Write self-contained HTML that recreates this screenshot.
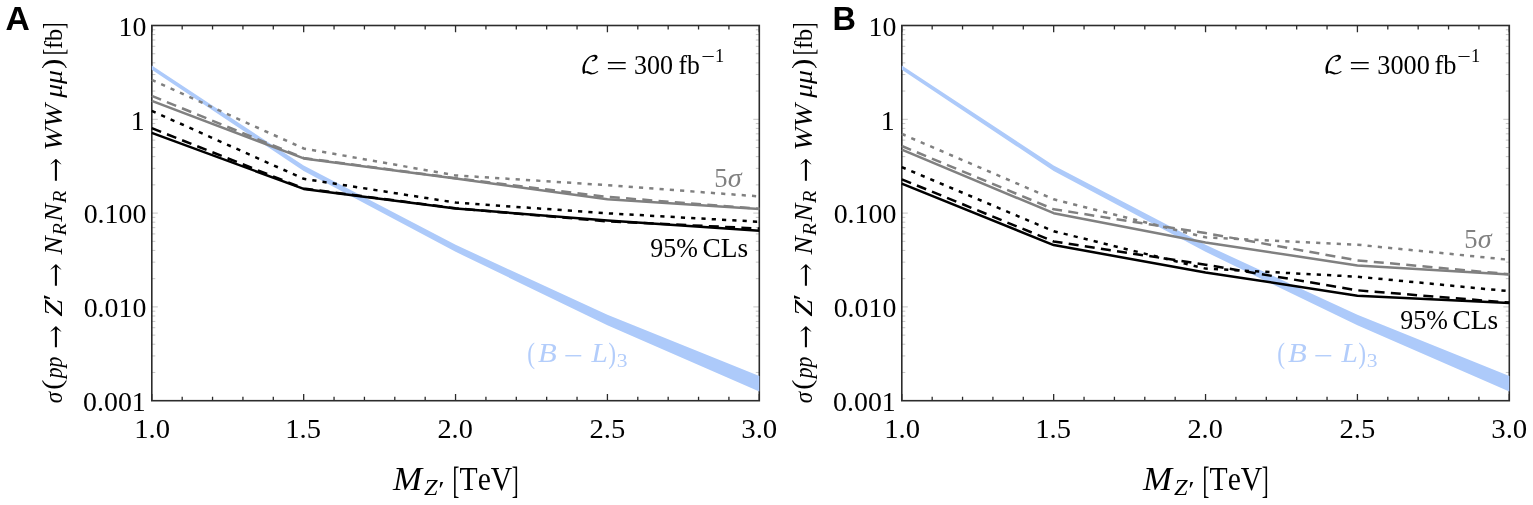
<!DOCTYPE html>
<html lang="en"><head><meta charset="utf-8"><title>Figure</title>
<style>
html,body{margin:0;padding:0;background:#fff}
svg{display:block}
text{font-family:"Liberation Serif","DejaVu Serif",serif;fill:#000;font-kerning:none;font-variant-ligatures:none}
.i{font-style:italic}
.sans{font-family:"Liberation Sans","DejaVu Sans",sans-serif;font-weight:bold}
.m{font-family:"DejaVu Math TeX Gyre","DejaVu Serif","DejaVu Sans",serif}
</style></head>
<body>
<svg width="1533" height="505" viewBox="0 0 1533 505">
<rect width="1533" height="505" fill="#fff"/>
<!-- panel A -->
<path d="M151.8 372.46h3.5M759.3 372.46h-3.5M151.8 355.95h3.5M759.3 355.95h-3.5M151.8 344.23h3.5M759.3 344.23h-3.5M151.8 335.14h3.5M759.3 335.14h-3.5M151.8 327.71h3.5M759.3 327.71h-3.5M151.8 321.43h3.5M759.3 321.43h-3.5M151.8 315.99h3.5M759.3 315.99h-3.5M151.8 311.19h3.5M759.3 311.19h-3.5M151.8 306.90h6M759.3 306.90h-6M151.8 278.66h3.5M759.3 278.66h-3.5M151.8 262.15h3.5M759.3 262.15h-3.5M151.8 250.43h3.5M759.3 250.43h-3.5M151.8 241.34h3.5M759.3 241.34h-3.5M151.8 233.91h3.5M759.3 233.91h-3.5M151.8 227.63h3.5M759.3 227.63h-3.5M151.8 222.19h3.5M759.3 222.19h-3.5M151.8 217.39h3.5M759.3 217.39h-3.5M151.8 213.10h6M759.3 213.10h-6M151.8 184.86h3.5M759.3 184.86h-3.5M151.8 168.35h3.5M759.3 168.35h-3.5M151.8 156.63h3.5M759.3 156.63h-3.5M151.8 147.54h3.5M759.3 147.54h-3.5M151.8 140.11h3.5M759.3 140.11h-3.5M151.8 133.83h3.5M759.3 133.83h-3.5M151.8 128.39h3.5M759.3 128.39h-3.5M151.8 123.59h3.5M759.3 123.59h-3.5M151.8 119.30h6M759.3 119.30h-6M151.8 91.06h3.5M759.3 91.06h-3.5M151.8 74.55h3.5M759.3 74.55h-3.5M151.8 62.83h3.5M759.3 62.83h-3.5M151.8 53.74h3.5M759.3 53.74h-3.5M151.8 46.31h3.5M759.3 46.31h-3.5M151.8 40.03h3.5M759.3 40.03h-3.5M151.8 34.59h3.5M759.3 34.59h-3.5M151.8 29.79h3.5M759.3 29.79h-3.5" stroke="#8c8c8c" stroke-width="0.5" fill="none"/>
<path d="M151.80 400.7v-6.8M151.80 25.5v6.8M182.18 400.7v-3.9M182.18 25.5v3.9M212.55 400.7v-3.9M212.55 25.5v3.9M242.93 400.7v-3.9M242.93 25.5v3.9M273.30 400.7v-3.9M273.30 25.5v3.9M303.68 400.7v-6.8M303.68 25.5v6.8M334.05 400.7v-3.9M334.05 25.5v3.9M364.43 400.7v-3.9M364.43 25.5v3.9M394.80 400.7v-3.9M394.80 25.5v3.9M425.18 400.7v-3.9M425.18 25.5v3.9M455.55 400.7v-6.8M455.55 25.5v6.8M485.93 400.7v-3.9M485.93 25.5v3.9M516.30 400.7v-3.9M516.30 25.5v3.9M546.67 400.7v-3.9M546.67 25.5v3.9M577.05 400.7v-3.9M577.05 25.5v3.9M607.42 400.7v-6.8M607.42 25.5v6.8M637.80 400.7v-3.9M637.80 25.5v3.9M668.17 400.7v-3.9M668.17 25.5v3.9M698.55 400.7v-3.9M698.55 25.5v3.9M728.92 400.7v-3.9M728.92 25.5v3.9M759.30 400.7v-6.8M759.30 25.5v6.8" stroke="#2a2a2a" stroke-width="1.3" fill="none"/>
<rect x="151.8" y="25.5" width="607.5" height="375.2" fill="none" stroke="#2c2c2c" stroke-width="1.6"/>
<polygon points="151.8,65.6 303.7,165.6 455.6,244.8 607.4,314.8 759.3,375.9 759.3,391.4 607.4,325.2 455.6,251.8 303.7,171.0 151.8,69.7" fill="#adcafa"/>
<polyline points="151.8,79.9 303.7,148.5 455.6,175.4 607.4,185.2 759.3,196.4" fill="none" stroke="#808080" stroke-width="2.5" stroke-linejoin="round" stroke-dasharray="4.2 6.1"/>
<polyline points="151.8,95.9 303.7,158.0 455.6,178.2 607.4,196.9 759.3,208.7" fill="none" stroke="#808080" stroke-width="2.5" stroke-linejoin="round" stroke-dasharray="10 6.3"/>
<polyline points="151.8,100.8 303.7,158.4 455.6,178.6 607.4,199.3 759.3,208.9" fill="none" stroke="#808080" stroke-width="2.5" stroke-linejoin="round"/>
<polyline points="151.8,110.9 303.7,178.8 455.6,202.6 607.4,213.3 759.3,221.8" fill="none" stroke="#000" stroke-width="2.5" stroke-linejoin="round" stroke-dasharray="4.2 6.1"/>
<polyline points="151.8,128.2 303.7,188.5 455.6,208.3 607.4,221.4 759.3,228.5" fill="none" stroke="#000" stroke-width="2.5" stroke-linejoin="round" stroke-dasharray="10 6.3"/>
<polyline points="151.8,132.8 303.7,188.9 455.6,208.6 607.4,220.4 759.3,230.7" fill="none" stroke="#000" stroke-width="2.5" stroke-linejoin="round"/>
<text x="118.50" y="35.70" font-size="27.5" textLength="27.86" lengthAdjust="spacingAndGlyphs">10</text>
<text x="130.74" y="129.50" font-size="27.5" textLength="13.93" lengthAdjust="spacingAndGlyphs">1</text>
<text x="83.68" y="223.30" font-size="27.5" textLength="62.68" lengthAdjust="spacingAndGlyphs">0.100</text>
<text x="83.68" y="317.10" font-size="27.5" textLength="62.68" lengthAdjust="spacingAndGlyphs">0.010</text>
<text x="83.09" y="410.90" font-size="27.5" textLength="62.68" lengthAdjust="spacingAndGlyphs">0.001</text>
<text x="134.28" y="438.00" font-size="27.5" textLength="35.81" lengthAdjust="spacingAndGlyphs">1.0</text>
<text x="285.19" y="438.00" font-size="27.5" textLength="35.73" lengthAdjust="spacingAndGlyphs">1.5</text>
<text x="437.46" y="438.00" font-size="27.5" textLength="35.32" lengthAdjust="spacingAndGlyphs">2.0</text>
<text x="589.55" y="438.00" font-size="27.5" textLength="35.67" lengthAdjust="spacingAndGlyphs">2.5</text>
<text x="741.22" y="438.00" font-size="27.5" textLength="36.08" lengthAdjust="spacingAndGlyphs">3.0</text>
<text class="sans" x="5.46" y="30.10" font-size="32.3" textLength="24.33" lengthAdjust="spacingAndGlyphs">A</text>
<g transform="translate(62.0 500) rotate(-90)"><text class="i" x="96.71" y="0.00" font-size="25.5" textLength="11.36" lengthAdjust="spacingAndGlyphs">σ</text><text x="110.09" y="-1.00" font-size="28" textLength="10.44" lengthAdjust="spacingAndGlyphs">(</text><text class="i" x="121.76" y="0.00" font-size="25.5" textLength="21.59" lengthAdjust="spacingAndGlyphs">pp</text><text class="m" x="150.79" y="0.50" font-size="26" textLength="24.92" lengthAdjust="spacingAndGlyphs">→</text><text class="i" x="183.53" y="0.00" font-size="25.5" textLength="16.72" lengthAdjust="spacingAndGlyphs">Z</text><text x="199.64" y="-1.00" font-size="25.5" textLength="6.92" lengthAdjust="spacingAndGlyphs">′</text><text class="m" x="212.23" y="0.50" font-size="26" textLength="25.63" lengthAdjust="spacingAndGlyphs">→</text><text class="i" x="245.60" y="0.00" font-size="25.5" textLength="18.14" lengthAdjust="spacingAndGlyphs">N</text><text class="i" x="264.41" y="4.10" font-size="18" textLength="12.43" lengthAdjust="spacingAndGlyphs">R</text><text class="i" x="278.30" y="0.00" font-size="25.5" textLength="18.14" lengthAdjust="spacingAndGlyphs">N</text><text class="i" x="297.11" y="4.10" font-size="18" textLength="12.43" lengthAdjust="spacingAndGlyphs">R</text><text class="m" x="317.21" y="0.50" font-size="26" textLength="25.87" lengthAdjust="spacingAndGlyphs">→</text><text class="i" x="349.56" y="0.00" font-size="25.5" textLength="46.53" lengthAdjust="spacingAndGlyphs">WW</text><text class="i" x="402.23" y="0.00" font-size="25.5" textLength="27.69" lengthAdjust="spacingAndGlyphs">μμ</text><text x="431.01" y="-1.00" font-size="28" textLength="10.44" lengthAdjust="spacingAndGlyphs">)</text><text x="444.73" y="1.30" font-size="29" textLength="6.58" lengthAdjust="spacingAndGlyphs">[</text><text x="450.96" y="0.00" font-size="25.5" textLength="20.17" lengthAdjust="spacingAndGlyphs">fb</text><text x="470.89" y="1.30" font-size="29" textLength="6.58" lengthAdjust="spacingAndGlyphs">]</text></g>
<text class="i" x="392.91" y="490.30" font-size="33" textLength="29.09" lengthAdjust="spacingAndGlyphs">M</text>
<text class="i" x="423.90" y="495.20" font-size="23.5" textLength="13.60" lengthAdjust="spacingAndGlyphs">Z</text>
<text x="438.26" y="497.00" font-size="23.5" textLength="6.37" lengthAdjust="spacingAndGlyphs">′</text>
<text x="452.57" y="492.60" font-size="38" textLength="6.88" lengthAdjust="spacingAndGlyphs">[</text>
<text x="459.56" y="490.30" font-size="33" textLength="52.77" lengthAdjust="spacingAndGlyphs">TeV</text>
<text x="511.75" y="492.60" font-size="38" textLength="6.88" lengthAdjust="spacingAndGlyphs">]</text>
<text class="m" x="580.39" y="73.00" font-size="24" textLength="20.22" lengthAdjust="spacingAndGlyphs">ℒ</text>
<text x="606.09" y="75.20" font-size="27.5" textLength="21.57" lengthAdjust="spacingAndGlyphs">=</text>
<text x="634.05" y="74.20" font-size="27.5" textLength="39.04" lengthAdjust="spacingAndGlyphs">300</text>
<text x="678.51" y="74.20" font-size="27.5" textLength="21.37" lengthAdjust="spacingAndGlyphs">fb</text>
<text x="701.19" y="63.40" font-size="19.5" textLength="13.70" lengthAdjust="spacingAndGlyphs">−</text>
<text x="715.08" y="62.00" font-size="19.5" textLength="9.23" lengthAdjust="spacingAndGlyphs">1</text>
<text x="714.26" y="187.30" font-size="27.5" textLength="13.28" lengthAdjust="spacingAndGlyphs" style="fill:#808080">5</text>
<text class="i" x="727.66" y="187.30" font-size="27.5" textLength="13.85" lengthAdjust="spacingAndGlyphs" style="fill:#808080">σ</text>
<text x="650.26" y="256.60" font-size="27.5" textLength="47.63" lengthAdjust="spacingAndGlyphs">95%</text>
<text x="702.58" y="256.60" font-size="27.5" textLength="45.72" lengthAdjust="spacingAndGlyphs">CLs</text>
<text x="527.27" y="362.80" font-size="30" textLength="7.78" lengthAdjust="spacingAndGlyphs" style="fill:#b3cdfb">(</text>
<text class="i" x="537.92" y="362.30" font-size="27.5" textLength="18.76" lengthAdjust="spacingAndGlyphs" style="fill:#b3cdfb">B</text>
<text x="563.70" y="364.80" font-size="27.5" textLength="19.27" lengthAdjust="spacingAndGlyphs" style="fill:#b3cdfb">−</text>
<text class="i" x="591.54" y="362.30" font-size="27.5" textLength="16.35" lengthAdjust="spacingAndGlyphs" style="fill:#b3cdfb">L</text>
<text x="608.25" y="362.80" font-size="30" textLength="7.78" lengthAdjust="spacingAndGlyphs" style="fill:#b3cdfb">)</text>
<text x="616.87" y="366.90" font-size="19.5" textLength="10.77" lengthAdjust="spacingAndGlyphs" style="fill:#b3cdfb">3</text>
<!-- panel B -->
<path d="M901.8 372.46h3.5M1509.3 372.46h-3.5M901.8 355.95h3.5M1509.3 355.95h-3.5M901.8 344.23h3.5M1509.3 344.23h-3.5M901.8 335.14h3.5M1509.3 335.14h-3.5M901.8 327.71h3.5M1509.3 327.71h-3.5M901.8 321.43h3.5M1509.3 321.43h-3.5M901.8 315.99h3.5M1509.3 315.99h-3.5M901.8 311.19h3.5M1509.3 311.19h-3.5M901.8 306.90h6M1509.3 306.90h-6M901.8 278.66h3.5M1509.3 278.66h-3.5M901.8 262.15h3.5M1509.3 262.15h-3.5M901.8 250.43h3.5M1509.3 250.43h-3.5M901.8 241.34h3.5M1509.3 241.34h-3.5M901.8 233.91h3.5M1509.3 233.91h-3.5M901.8 227.63h3.5M1509.3 227.63h-3.5M901.8 222.19h3.5M1509.3 222.19h-3.5M901.8 217.39h3.5M1509.3 217.39h-3.5M901.8 213.10h6M1509.3 213.10h-6M901.8 184.86h3.5M1509.3 184.86h-3.5M901.8 168.35h3.5M1509.3 168.35h-3.5M901.8 156.63h3.5M1509.3 156.63h-3.5M901.8 147.54h3.5M1509.3 147.54h-3.5M901.8 140.11h3.5M1509.3 140.11h-3.5M901.8 133.83h3.5M1509.3 133.83h-3.5M901.8 128.39h3.5M1509.3 128.39h-3.5M901.8 123.59h3.5M1509.3 123.59h-3.5M901.8 119.30h6M1509.3 119.30h-6M901.8 91.06h3.5M1509.3 91.06h-3.5M901.8 74.55h3.5M1509.3 74.55h-3.5M901.8 62.83h3.5M1509.3 62.83h-3.5M901.8 53.74h3.5M1509.3 53.74h-3.5M901.8 46.31h3.5M1509.3 46.31h-3.5M901.8 40.03h3.5M1509.3 40.03h-3.5M901.8 34.59h3.5M1509.3 34.59h-3.5M901.8 29.79h3.5M1509.3 29.79h-3.5" stroke="#8c8c8c" stroke-width="0.5" fill="none"/>
<path d="M901.80 400.7v-6.8M901.80 25.5v6.8M932.17 400.7v-3.9M932.17 25.5v3.9M962.55 400.7v-3.9M962.55 25.5v3.9M992.92 400.7v-3.9M992.92 25.5v3.9M1023.30 400.7v-3.9M1023.30 25.5v3.9M1053.67 400.7v-6.8M1053.67 25.5v6.8M1084.05 400.7v-3.9M1084.05 25.5v3.9M1114.42 400.7v-3.9M1114.42 25.5v3.9M1144.80 400.7v-3.9M1144.80 25.5v3.9M1175.17 400.7v-3.9M1175.17 25.5v3.9M1205.55 400.7v-6.8M1205.55 25.5v6.8M1235.92 400.7v-3.9M1235.92 25.5v3.9M1266.30 400.7v-3.9M1266.30 25.5v3.9M1296.67 400.7v-3.9M1296.67 25.5v3.9M1327.05 400.7v-3.9M1327.05 25.5v3.9M1357.42 400.7v-6.8M1357.42 25.5v6.8M1387.80 400.7v-3.9M1387.80 25.5v3.9M1418.17 400.7v-3.9M1418.17 25.5v3.9M1448.55 400.7v-3.9M1448.55 25.5v3.9M1478.92 400.7v-3.9M1478.92 25.5v3.9M1509.30 400.7v-6.8M1509.30 25.5v6.8" stroke="#2a2a2a" stroke-width="1.3" fill="none"/>
<rect x="901.8" y="25.5" width="607.5" height="375.2" fill="none" stroke="#2c2c2c" stroke-width="1.6"/>
<polygon points="901.8,65.6 1053.7,165.6 1205.5,244.8 1357.4,314.8 1509.3,375.9 1509.3,391.4 1357.4,325.2 1205.5,251.8 1053.7,171.0 901.8,69.7" fill="#adcafa"/>
<polyline points="901.8,134.0 1053.7,199.3 1205.5,237.3 1357.4,244.7 1509.3,259.8" fill="none" stroke="#808080" stroke-width="2.5" stroke-linejoin="round" stroke-dasharray="4.2 6.1"/>
<polyline points="901.8,146.0 1053.7,209.3 1205.5,233.1 1357.4,260.4 1509.3,274.2" fill="none" stroke="#808080" stroke-width="2.5" stroke-linejoin="round" stroke-dasharray="10 6.3"/>
<polyline points="901.8,149.7 1053.7,213.2 1205.5,242.4 1357.4,265.4 1509.3,274.6" fill="none" stroke="#808080" stroke-width="2.5" stroke-linejoin="round"/>
<polyline points="901.8,167.1 1053.7,231.2 1205.5,268.6 1357.4,276.7 1509.3,291.2" fill="none" stroke="#000" stroke-width="2.5" stroke-linejoin="round" stroke-dasharray="4.2 6.1"/>
<polyline points="901.8,179.3 1053.7,241.5 1205.5,264.7 1357.4,290.3 1509.3,302.6" fill="none" stroke="#000" stroke-width="2.5" stroke-linejoin="round" stroke-dasharray="10 6.3"/>
<polyline points="901.8,183.6 1053.7,245.1 1205.5,272.4 1357.4,295.7 1509.3,303.0" fill="none" stroke="#000" stroke-width="2.5" stroke-linejoin="round"/>
<text x="868.50" y="35.70" font-size="27.5" textLength="27.86" lengthAdjust="spacingAndGlyphs">10</text>
<text x="880.74" y="129.50" font-size="27.5" textLength="13.93" lengthAdjust="spacingAndGlyphs">1</text>
<text x="833.68" y="223.30" font-size="27.5" textLength="62.68" lengthAdjust="spacingAndGlyphs">0.100</text>
<text x="833.68" y="317.10" font-size="27.5" textLength="62.68" lengthAdjust="spacingAndGlyphs">0.010</text>
<text x="833.09" y="410.90" font-size="27.5" textLength="62.68" lengthAdjust="spacingAndGlyphs">0.001</text>
<text x="884.28" y="438.00" font-size="27.5" textLength="35.81" lengthAdjust="spacingAndGlyphs">1.0</text>
<text x="1035.19" y="438.00" font-size="27.5" textLength="35.73" lengthAdjust="spacingAndGlyphs">1.5</text>
<text x="1187.46" y="438.00" font-size="27.5" textLength="35.32" lengthAdjust="spacingAndGlyphs">2.0</text>
<text x="1339.55" y="438.00" font-size="27.5" textLength="35.67" lengthAdjust="spacingAndGlyphs">2.5</text>
<text x="1491.22" y="438.00" font-size="27.5" textLength="36.08" lengthAdjust="spacingAndGlyphs">3.0</text>
<text class="sans" x="832.43" y="30.10" font-size="32.3" textLength="23.45" lengthAdjust="spacingAndGlyphs">B</text>
<g transform="translate(812.0 500) rotate(-90)"><text class="i" x="96.71" y="0.00" font-size="25.5" textLength="11.36" lengthAdjust="spacingAndGlyphs">σ</text><text x="110.09" y="-1.00" font-size="28" textLength="10.44" lengthAdjust="spacingAndGlyphs">(</text><text class="i" x="121.76" y="0.00" font-size="25.5" textLength="21.59" lengthAdjust="spacingAndGlyphs">pp</text><text class="m" x="150.79" y="0.50" font-size="26" textLength="24.92" lengthAdjust="spacingAndGlyphs">→</text><text class="i" x="183.53" y="0.00" font-size="25.5" textLength="16.72" lengthAdjust="spacingAndGlyphs">Z</text><text x="199.64" y="-1.00" font-size="25.5" textLength="6.92" lengthAdjust="spacingAndGlyphs">′</text><text class="m" x="212.23" y="0.50" font-size="26" textLength="25.63" lengthAdjust="spacingAndGlyphs">→</text><text class="i" x="245.60" y="0.00" font-size="25.5" textLength="18.14" lengthAdjust="spacingAndGlyphs">N</text><text class="i" x="264.41" y="4.10" font-size="18" textLength="12.43" lengthAdjust="spacingAndGlyphs">R</text><text class="i" x="278.30" y="0.00" font-size="25.5" textLength="18.14" lengthAdjust="spacingAndGlyphs">N</text><text class="i" x="297.11" y="4.10" font-size="18" textLength="12.43" lengthAdjust="spacingAndGlyphs">R</text><text class="m" x="317.21" y="0.50" font-size="26" textLength="25.87" lengthAdjust="spacingAndGlyphs">→</text><text class="i" x="349.56" y="0.00" font-size="25.5" textLength="46.53" lengthAdjust="spacingAndGlyphs">WW</text><text class="i" x="402.23" y="0.00" font-size="25.5" textLength="27.69" lengthAdjust="spacingAndGlyphs">μμ</text><text x="431.01" y="-1.00" font-size="28" textLength="10.44" lengthAdjust="spacingAndGlyphs">)</text><text x="444.73" y="1.30" font-size="29" textLength="6.58" lengthAdjust="spacingAndGlyphs">[</text><text x="450.96" y="0.00" font-size="25.5" textLength="20.17" lengthAdjust="spacingAndGlyphs">fb</text><text x="470.89" y="1.30" font-size="29" textLength="6.58" lengthAdjust="spacingAndGlyphs">]</text></g>
<text class="i" x="1142.91" y="490.30" font-size="33" textLength="29.09" lengthAdjust="spacingAndGlyphs">M</text>
<text class="i" x="1173.90" y="495.20" font-size="23.5" textLength="13.60" lengthAdjust="spacingAndGlyphs">Z</text>
<text x="1188.26" y="497.00" font-size="23.5" textLength="6.37" lengthAdjust="spacingAndGlyphs">′</text>
<text x="1202.57" y="492.60" font-size="38" textLength="6.88" lengthAdjust="spacingAndGlyphs">[</text>
<text x="1209.56" y="490.30" font-size="33" textLength="52.77" lengthAdjust="spacingAndGlyphs">TeV</text>
<text x="1261.75" y="492.60" font-size="38" textLength="6.88" lengthAdjust="spacingAndGlyphs">]</text>
<text class="m" x="1323.24" y="73.00" font-size="24" textLength="20.72" lengthAdjust="spacingAndGlyphs">ℒ</text>
<text x="1349.09" y="75.20" font-size="27.5" textLength="21.57" lengthAdjust="spacingAndGlyphs">=</text>
<text x="1377.34" y="74.20" font-size="27.5" textLength="52.45" lengthAdjust="spacingAndGlyphs">3000</text>
<text x="1434.49" y="74.20" font-size="27.5" textLength="22.02" lengthAdjust="spacingAndGlyphs">fb</text>
<text x="1457.30" y="63.40" font-size="19.5" textLength="13.57" lengthAdjust="spacingAndGlyphs">−</text>
<text x="1471.08" y="62.00" font-size="19.5" textLength="9.23" lengthAdjust="spacingAndGlyphs">1</text>
<text x="1464.26" y="248.30" font-size="27.5" textLength="13.28" lengthAdjust="spacingAndGlyphs" style="fill:#808080">5</text>
<text class="i" x="1477.66" y="248.30" font-size="27.5" textLength="13.85" lengthAdjust="spacingAndGlyphs" style="fill:#808080">σ</text>
<text x="1400.26" y="329.40" font-size="27.5" textLength="47.63" lengthAdjust="spacingAndGlyphs">95%</text>
<text x="1452.58" y="329.40" font-size="27.5" textLength="45.72" lengthAdjust="spacingAndGlyphs">CLs</text>
<text x="1277.27" y="362.80" font-size="30" textLength="7.78" lengthAdjust="spacingAndGlyphs" style="fill:#b3cdfb">(</text>
<text class="i" x="1287.92" y="362.30" font-size="27.5" textLength="18.76" lengthAdjust="spacingAndGlyphs" style="fill:#b3cdfb">B</text>
<text x="1313.70" y="364.80" font-size="27.5" textLength="19.27" lengthAdjust="spacingAndGlyphs" style="fill:#b3cdfb">−</text>
<text class="i" x="1341.54" y="362.30" font-size="27.5" textLength="16.35" lengthAdjust="spacingAndGlyphs" style="fill:#b3cdfb">L</text>
<text x="1358.25" y="362.80" font-size="30" textLength="7.78" lengthAdjust="spacingAndGlyphs" style="fill:#b3cdfb">)</text>
<text x="1366.87" y="366.90" font-size="19.5" textLength="10.77" lengthAdjust="spacingAndGlyphs" style="fill:#b3cdfb">3</text>
</svg>
</body></html>
